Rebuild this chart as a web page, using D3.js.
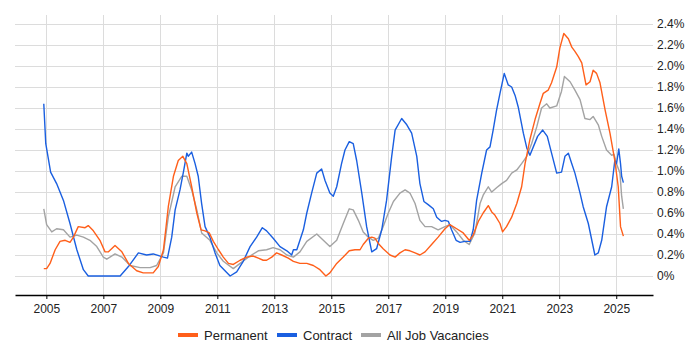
<!DOCTYPE html>
<html>
<head>
<meta charset="utf-8">
<script src="https://cdn.jsdelivr.net/npm/d3@7"></script>
<style>
  body { margin: 0; background: #fff; }
  svg { font-family: "Liberation Sans", Arial, sans-serif; }
</style>
</head>
<body>
<svg id="chart" width="700" height="350"></svg>
<script>
// Rolling share of job ads, [year, percent]
const permanent = [
  [2004.91,0.07],[2005.01,0.07],[2005.13,0.12],[2005.31,0.25],[2005.48,0.33],[2005.66,0.34],[2005.83,0.32],
  [2005.95,0.37],[2006.12,0.47],[2006.36,0.46],[2006.47,0.48],[2006.65,0.43],[2006.88,0.34],[2007.06,0.23],
  [2007.18,0.23],[2007.41,0.29],[2007.65,0.23],[2007.88,0.12],[2008.17,0.05],[2008.40,0.03],[2008.75,0.03],
  [2008.93,0.09],[2009.11,0.25],[2009.28,0.66],[2009.46,0.95],[2009.63,1.10],[2009.79,1.14],[2009.93,1.07],
  [2010.10,0.85],[2010.28,0.60],[2010.43,0.44],[2010.57,0.43],[2010.72,0.41],[2010.86,0.33],[2011.04,0.25],
  [2011.21,0.18],[2011.39,0.12],[2011.56,0.11],[2011.80,0.15],[2012.03,0.18],[2012.26,0.19],[2012.44,0.17],
  [2012.61,0.15],[2012.73,0.15],[2012.91,0.18],[2013.08,0.22],[2013.26,0.20],[2013.49,0.17],[2013.67,0.14],
  [2013.90,0.12],[2014.14,0.12],[2014.37,0.10],[2014.60,0.06],[2014.81,0.00],[2014.95,0.03],[2015.19,0.12],
  [2015.42,0.18],[2015.63,0.24],[2015.83,0.25],[2016.01,0.25],[2016.12,0.30],[2016.30,0.36],[2016.42,0.37],
  [2016.53,0.36],[2016.65,0.31],[2016.82,0.26],[2017.06,0.20],[2017.24,0.18],[2017.41,0.22],[2017.59,0.25],
  [2017.76,0.24],[2017.94,0.22],[2018.11,0.20],[2018.29,0.23],[2018.52,0.30],[2018.75,0.37],[2018.99,0.45],
  [2019.16,0.49],[2019.40,0.45],[2019.63,0.41],[2019.84,0.34],[2019.98,0.39],[2020.16,0.52],[2020.33,0.60],
  [2020.51,0.67],[2020.63,0.61],[2020.74,0.58],[2020.92,0.50],[2021.01,0.42],[2021.15,0.47],[2021.33,0.56],
  [2021.51,0.69],[2021.68,0.85],[2021.80,1.07],[2021.97,1.30],[2022.15,1.49],[2022.32,1.64],[2022.44,1.74],
  [2022.61,1.77],[2022.73,1.84],[2022.91,1.99],[2023.02,2.17],[2023.16,2.31],[2023.32,2.26],[2023.44,2.18],
  [2023.55,2.14],[2023.67,2.09],[2023.79,2.03],[2023.94,1.82],[2024.08,1.85],[2024.19,1.96],[2024.31,1.93],
  [2024.43,1.84],[2024.61,1.58],[2024.78,1.36],[2024.95,1.10],[2025.07,0.85],[2025.15,0.47],[2025.25,0.38]
];

const contract = [
  [2004.91,1.64],[2004.98,1.26],[2005.15,0.99],[2005.36,0.88],[2005.60,0.72],[2005.83,0.50],[2006.07,0.25],
  [2006.30,0.06],[2006.47,0.00],[2007.59,0.00],[2007.88,0.09],[2008.23,0.22],[2008.52,0.20],[2008.75,0.21],
  [2009.11,0.18],[2009.25,0.17],[2009.40,0.37],[2009.52,0.63],[2009.69,0.82],[2009.81,0.99],[2009.93,1.17],
  [2009.98,1.14],[2010.10,1.18],[2010.22,1.07],[2010.33,0.95],[2010.45,0.69],[2010.57,0.47],[2010.74,0.37],
  [2010.92,0.22],[2011.09,0.10],[2011.45,0.00],[2011.68,0.04],[2011.91,0.14],[2012.15,0.28],[2012.38,0.37],
  [2012.58,0.46],[2012.73,0.43],[2012.96,0.36],[2013.20,0.28],[2013.44,0.24],[2013.61,0.20],[2013.67,0.25],
  [2013.79,0.25],[2014.02,0.44],[2014.14,0.60],[2014.31,0.79],[2014.49,0.98],[2014.66,1.02],[2014.78,0.91],
  [2014.95,0.79],[2015.07,0.76],[2015.19,0.85],[2015.36,1.07],[2015.48,1.20],[2015.63,1.28],[2015.77,1.26],
  [2015.89,1.10],[2016.07,0.79],[2016.24,0.47],[2016.42,0.23],[2016.59,0.26],[2016.77,0.44],[2016.94,0.72],
  [2017.12,1.14],[2017.24,1.39],[2017.47,1.50],[2017.65,1.44],[2017.82,1.36],[2018.00,1.14],[2018.11,0.88],
  [2018.25,0.71],[2018.40,0.68],[2018.58,0.64],[2018.70,0.56],[2018.87,0.52],[2018.99,0.53],[2019.11,0.52],
  [2019.22,0.44],[2019.38,0.34],[2019.52,0.32],[2019.69,0.33],[2019.87,0.33],[2019.98,0.44],[2020.10,0.72],
  [2020.28,0.98],[2020.45,1.20],[2020.57,1.23],[2020.68,1.39],[2020.80,1.58],[2020.92,1.74],[2021.07,1.93],
  [2021.21,1.82],[2021.33,1.80],[2021.45,1.72],[2021.56,1.61],[2021.74,1.36],[2021.86,1.22],[2021.97,1.15],
  [2022.09,1.23],[2022.24,1.33],[2022.42,1.39],[2022.58,1.33],[2022.73,1.17],[2022.91,0.98],[2023.08,0.99],
  [2023.20,1.14],[2023.32,1.17],[2023.44,1.07],[2023.55,0.98],[2023.73,0.79],[2023.84,0.66],[2024.02,0.50],
  [2024.25,0.20],[2024.37,0.22],[2024.49,0.34],[2024.66,0.66],[2024.84,0.85],[2024.95,1.10],[2025.01,1.07],
  [2025.09,1.21],[2025.15,1.07],[2025.19,0.95],[2025.25,0.89]
];

const allJobs = [
  [2004.91,0.64],[2005.01,0.49],[2005.19,0.42],[2005.36,0.45],[2005.60,0.44],[2005.83,0.37],[2006.07,0.39],
  [2006.30,0.37],[2006.53,0.34],[2006.77,0.28],[2007.00,0.18],[2007.12,0.16],[2007.41,0.21],[2007.65,0.18],
  [2007.94,0.10],[2008.29,0.08],[2008.64,0.08],[2008.87,0.10],[2009.11,0.22],[2009.28,0.56],[2009.52,0.85],
  [2009.75,0.95],[2009.93,0.95],[2010.10,0.82],[2010.28,0.63],[2010.45,0.41],[2010.74,0.34],[2010.98,0.22],
  [2011.21,0.14],[2011.56,0.07],[2011.80,0.12],[2012.09,0.18],[2012.44,0.24],[2012.73,0.25],[2012.96,0.27],
  [2013.20,0.25],[2013.44,0.20],[2013.67,0.18],[2013.90,0.23],[2014.14,0.33],[2014.49,0.40],[2014.72,0.34],
  [2014.95,0.28],[2015.19,0.34],[2015.42,0.50],[2015.63,0.64],[2015.77,0.63],[2015.95,0.53],[2016.12,0.42],
  [2016.30,0.37],[2016.47,0.34],[2016.65,0.36],[2016.82,0.47],[2017.00,0.60],[2017.18,0.71],[2017.41,0.79],
  [2017.59,0.82],[2017.76,0.79],[2017.94,0.69],[2018.11,0.53],[2018.29,0.47],[2018.52,0.47],[2018.75,0.44],
  [2018.99,0.47],[2019.16,0.49],[2019.40,0.42],[2019.63,0.34],[2019.84,0.30],[2020.04,0.41],[2020.22,0.69],
  [2020.33,0.77],[2020.51,0.85],[2020.63,0.80],[2020.80,0.84],[2020.98,0.88],[2021.15,0.91],[2021.33,0.98],
  [2021.51,1.01],[2021.68,1.07],[2021.86,1.14],[2022.03,1.26],[2022.21,1.42],[2022.38,1.60],[2022.56,1.64],
  [2022.67,1.60],[2022.91,1.62],[2023.08,1.76],[2023.18,1.90],[2023.38,1.85],[2023.55,1.77],[2023.73,1.68],
  [2023.90,1.50],[2024.08,1.49],[2024.19,1.52],[2024.37,1.44],[2024.49,1.33],[2024.66,1.20],[2024.84,1.15],
  [2024.92,1.16],[2025.01,1.07],[2025.13,0.98],[2025.19,0.76],[2025.25,0.64]
];

const yearTicks = [2005, 2007, 2009, 2011, 2013, 2015, 2017, 2019, 2021, 2023, 2025];
const pctTicks = [0, 0.2, 0.4, 0.6, 0.8, 1.0, 1.2, 1.4, 1.6, 1.8, 2.0, 2.2, 2.4];

const series = [
  { name: "Permanent", data: permanent, color: "#ff5f1a" },
  { name: "Contract", data: contract, color: "#1a5fe0" },
  { name: "All Job Vacancies", data: allJobs, color: "#a3a3a3" }
];

const plot = { left: 15, right: 653, top: 15, bottom: 295 };
const svg = d3.select("#chart");

const x = d3.scaleLinear().domain([2003.9, 2026.29]).range([plot.left, plot.right]);
const y = d3.scaleLinear().domain([-0.181, 2.486]).range([plot.bottom, plot.top]);

// grid
svg.append("g")
  .selectAll("line")
  .data(pctTicks)
  .join("line")
  .attr("x1", plot.left).attr("x2", plot.right)
  .attr("y1", d => Math.round(y(d)) + 0.5).attr("y2", d => Math.round(y(d)) + 0.5)
  .attr("stroke", "#dcdcdc");

svg.append("g")
  .selectAll("line")
  .data(yearTicks)
  .join("line")
  .attr("x1", d => Math.round(x(d)) + 0.5).attr("x2", d => Math.round(x(d)) + 0.5)
  .attr("y1", plot.top).attr("y2", plot.bottom)
  .attr("stroke", "#dcdcdc");

// x axis
const xAxis = svg.append("g")
  .attr("transform", `translate(0,${plot.bottom})`)
  .call(d3.axisBottom(x).tickValues(yearTicks).tickFormat(d3.format("d")).tickSize(4).tickSizeOuter(0));
xAxis.select(".domain").attr("stroke", "#000").attr("stroke-width", 1.5);
xAxis.selectAll("text").attr("font-size", 12).attr("fill", "#222")
  .attr("font-family", "Liberation Sans, Arial, sans-serif").attr("dy", "0.95em");

// y axis on the right
const yAxis = svg.append("g")
  .attr("transform", `translate(${plot.right},0)`)
  .call(d3.axisRight(y).tickValues(pctTicks)
    .tickFormat(d => d === 0 ? "0%" : d.toFixed(1) + "%").tickSize(0).tickPadding(4));
yAxis.select(".domain").remove();
yAxis.selectAll("text").attr("font-size", 12).attr("fill", "#222")
  .attr("font-family", "Liberation Sans, Arial, sans-serif");

// lines
const line = d3.line().x(d => x(d[0])).y(d => y(d[1]));
svg.append("g")
  .selectAll("path")
  .data(series.slice().reverse())
  .join("path")
  .attr("d", d => line(d.data))
  .attr("fill", "none")
  .attr("stroke", d => d.color)
  .attr("stroke-width", 1.4)
  .attr("stroke-linejoin", "round");

// legend
const legendX = [178, 277, 361];
const legend = svg.append("g")
  .selectAll("g")
  .data(series)
  .join("g")
  .attr("transform", (d, i) => `translate(${legendX[i]},335)`);
legend.append("line")
  .attr("x1", 0).attr("x2", 20)
  .attr("stroke", d => d.color)
  .attr("stroke-width", 4);
legend.append("text")
  .attr("x", 26).attr("y", 5)
  .attr("font-size", 13)
  .attr("fill", "#222")
  .text(d => d.name);
</script>
</body>
</html>
